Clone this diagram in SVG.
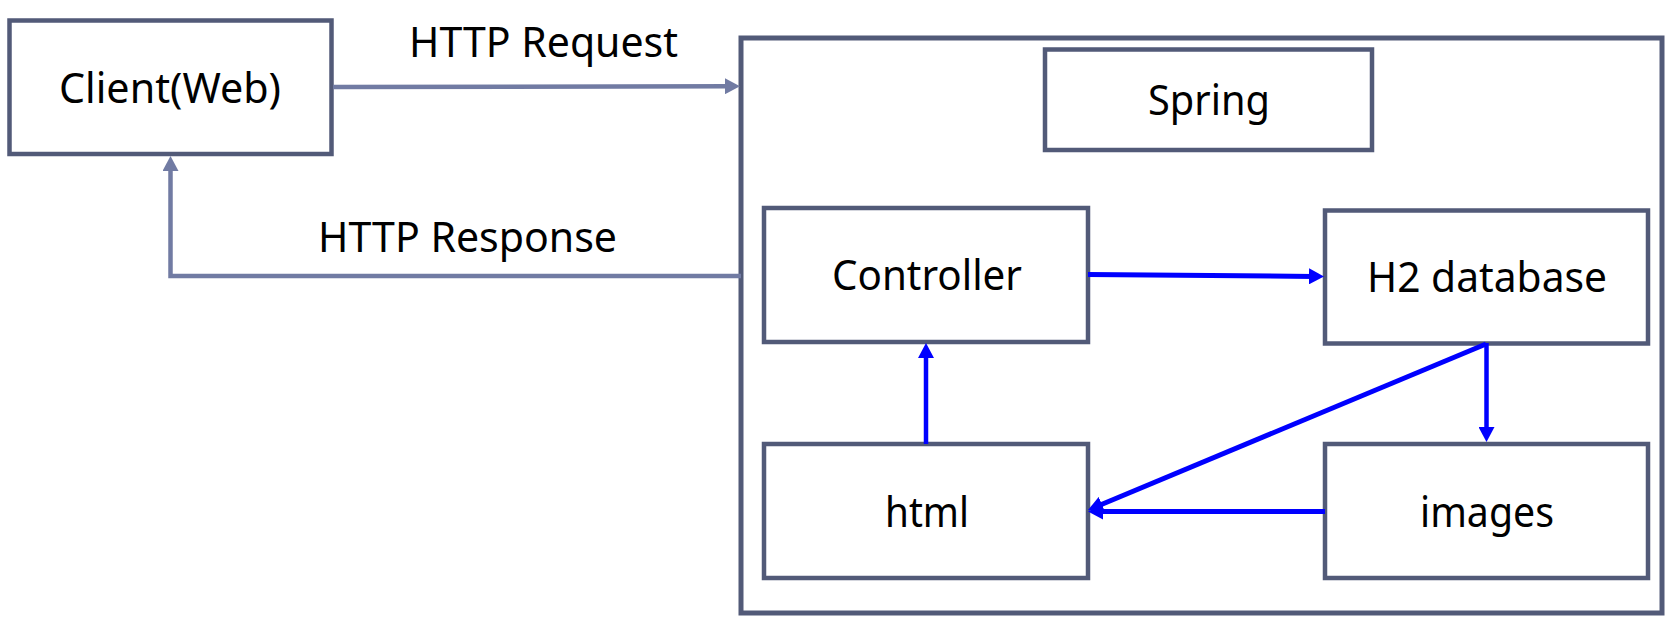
<svg xmlns="http://www.w3.org/2000/svg" width="1674" height="641" viewBox="0 0 1674 641">
<style>
.box{fill:#fff;stroke:#525A78;stroke-width:4.5}
.outer{fill:none;stroke:#525A78;stroke-width:5}
.lbl{font-family:"Noto Sans","Open Sans","Liberation Sans",sans-serif;font-size:42px;fill:#000;text-anchor:middle}
.gray{fill:none;stroke:#717BA3;stroke-width:4.5}
.blue{fill:none;stroke:#0000FF;stroke-width:5}
</style>
<defs>
<marker id="ag" markerUnits="userSpaceOnUse" markerWidth="16" markerHeight="16" refX="5" refY="8" orient="auto">
<path d="M0,0 L15,8 L0,16 z" fill="#717BA3"/>
</marker>
<marker id="ab" markerUnits="userSpaceOnUse" markerWidth="16" markerHeight="16" refX="5" refY="8" orient="auto">
<path d="M0,0 L15,8 L0,16 z" fill="#0000FF"/>
</marker>
</defs>
<rect id="white" width="1674" height="641" fill="#fff"/>
<g id="client">
<rect class="box" x="9.5" y="20.5" width="322" height="133.5"/>
<text class="lbl" x="170" y="103" textLength="222" lengthAdjust="spacingAndGlyphs">Client(Web)</text>
</g>
<g id="server">
<rect class="outer" x="741" y="38" width="921" height="575"/>
</g>
<g id="spring">
<rect class="box" x="1045" y="49.5" width="327" height="100.5"/>
<text class="lbl" x="1209" y="115" textLength="122" lengthAdjust="spacingAndGlyphs">Spring</text>
</g>
<g id="controller">
<rect class="box" x="764" y="208" width="324" height="134"/>
<text class="lbl" x="927" y="290" textLength="190" lengthAdjust="spacingAndGlyphs">Controller</text>
</g>
<g id="h2">
<rect class="box" x="1325" y="210.5" width="323" height="133"/>
<text class="lbl" x="1487" y="291.5" textLength="240" lengthAdjust="spacingAndGlyphs">H2 database</text>
</g>
<g id="html">
<rect class="box" x="764" y="444" width="324" height="134"/>
<text class="lbl" x="927" y="527" textLength="84" lengthAdjust="spacingAndGlyphs">html</text>
</g>
<g id="images">
<rect class="box" x="1325" y="444" width="323" height="134"/>
<text class="lbl" x="1487" y="527" textLength="134" lengthAdjust="spacingAndGlyphs">images</text>
</g>
<g id="labels">
<text class="lbl" x="543.5" y="57" textLength="269" lengthAdjust="spacingAndGlyphs">HTTP Request</text>
<text class="lbl" x="467.5" y="252" textLength="299" lengthAdjust="spacingAndGlyphs">HTTP Response</text>
</g>
<g id="connectors">
<path class="gray" d="M333,87 L730,86.2" marker-end="url(#ag)"/>
<path class="gray" d="M741,276 L170.5,276 L170.5,166" marker-end="url(#ag)"/>
<path class="blue" d="M1088,274.5 L1314,276.4" marker-end="url(#ab)"/>
<path class="blue" style="stroke-width:4.5" d="M1486.5,343 L1486.5,432" marker-end="url(#ab)"/>
<path class="blue" d="M1486,344 L1097.2,506.2" marker-end="url(#ab)"/>
<path class="blue" d="M1325,511.5 L1098,511.5" marker-end="url(#ab)"/>
<path class="blue" style="stroke-width:4.5" d="M926,444 L926,353" marker-end="url(#ab)"/>
</g>
</svg>
